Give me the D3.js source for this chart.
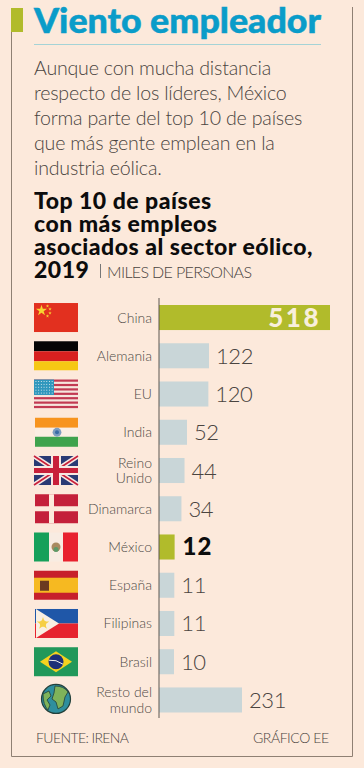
<!DOCTYPE html>
<html><head><meta charset="utf-8">
<script src="https://cdn.jsdelivr.net/npm/d3@7"></script>
<style>html,body{margin:0;padding:0;background:#fce9db}svg{display:block}text{font-family:Lato,sans-serif}</style>
</head><body><svg id="c" width="364" height="768"></svg>
<script>
const categories=["China","Alemania","EU","India","Reino|Unido","Dinamarca","México","España","Filipinas","Brasil","Resto del|mundo"];
const values=[518,122,120,52,44,34,12,11,11,10,231];
const highlighted=["China","México"];
const titleText="Viento empleador";
const introLines=["Aunque con mucha distancia","respecto de los líderes, México","forma parte del top 10 de países","que más gente emplean en la","industria eólica."];
const headingLines=["Top 10 de países","con más empleos","asociados al sector eólico,","2019"];
const unitText="MILES DE PERSONAS";
const sourceText="FUENTE: IRENA";
const creditText="GRÁFICO EE";
// the printed bars are not proportional: breakpoints
const scaleDomain=[0,10,52,122,231,518];
const scaleRange=[159,174,187,209,242,330];

const svg=d3.select("#c");
const bg="#fce9db",green="#b1bb2b",grey="#c9d6d8",ink="#4a4440";
svg.append("rect").attr("width",364).attr("height",768).attr("fill",bg);
// frame
svg.append("path").attr("d","M11.5 32V756.5H352.5V7").attr("fill","none").attr("stroke","#8f8073").attr("stroke-width",1);
svg.append("rect").attr("x",11).attr("y",8).attr("width",12).attr("height",24).attr("fill",green);
// title
svg.append("text").attr("x",34).attr("y",33).text(titleText).attr("font-size",34).attr("font-weight",900).attr("fill","#0a9cc9").attr("stroke","#0a9cc9").attr("stroke-width",.5).attr("textLength",287).attr("lengthAdjust","spacingAndGlyphs");
svg.append("line").attr("x1",34).attr("x2",321).attr("y1",44.5).attr("y2",44.5).attr("stroke","#a5d3d6");
svg.selectAll(".intro").data(introLines).join("text").attr("x",34).attr("y",(d,i)=>75+i*25).text(d=>d).attr("font-size",19.6).attr("font-weight",300).attr("letter-spacing",-.2).attr("fill",ink);
svg.selectAll(".head").data(headingLines).join("text").attr("x",34).attr("y",(d,i)=>209+i*23).text(d=>d).attr("font-size",23).attr("font-weight",900).attr("fill","#0c0c0c").attr("letter-spacing",.5);
svg.append("line").attr("x1",100.5).attr("x2",100.5).attr("y1",264).attr("y2",278).attr("stroke","#777");
svg.append("text").attr("x",107).attr("y",278).text(unitText).attr("font-size",16).attr("font-weight",300).attr("fill",ink).attr("textLength",145);

const x=d3.scaleLinear().domain(scaleDomain).range(scaleRange);
const y=d3.scaleBand().domain(categories).range([298.5,719]).paddingInner(.345).paddingOuter(.17);
const cy=d=>y(d)+y.bandwidth()/2;
const rows=categories.map((c,i)=>({c,v:values[i],i}));
// bars
svg.selectAll(".bar").data(rows).join("rect").attr("x",x(0)).attr("y",d=>y(d.c)).attr("height",y.bandwidth()).attr("width",d=>x(d.v)-x(0)).attr("fill",d=>highlighted.includes(d.c)?green:grey);
svg.append("line").attr("x1",x(0)).attr("x2",x(0)).attr("y1",298).attr("y2",718).attr("stroke","#5d5650");
// labels
rows.forEach(d=>{
 const parts=d.c.split("|");
 const t=svg.append("text").attr("text-anchor","end").attr("font-size",14).attr("font-weight",300).attr("fill","#4f4a46");
 parts.forEach((p,k)=>t.append("tspan").attr("x",152).attr("y",cy(d.c)+5+(k-(parts.length-1)/2)*15.5).text(p));
});
// values
rows.forEach(d=>{
 const t=svg.append("text").attr("y",cy(d.c)+8).text(d.v);
 if(d.c==="China") t.attr("x",x(d.v)-9).attr("y",cy(d.c)+9).attr("text-anchor","end").attr("font-size",26).attr("font-weight",900).attr("fill","#f8efdc").attr("letter-spacing",2.5);
 else if(d.c==="México") t.attr("x",x(d.v)+8).attr("font-size",24).attr("font-weight",900).attr("letter-spacing",1).attr("fill","#0c0c0c");
 else t.attr("x",x(d.v)+7).attr("font-size",22).attr("letter-spacing",-.4).attr("font-weight",300).attr("fill",ink);
});
// flags (drawn in a local 44x29 box)
const W=44,H=29;
const flag=c=>svg.append("g").attr("transform",`translate(34,${cy(c)-H/2})`);
const R=(g,a,b,w,h,f)=>g.append("rect").attr("x",a).attr("y",b).attr("width",w).attr("height",h).attr("fill",f);
const star=(g,cx,cy0,r,f,rot=0)=>g.append("path").attr("transform",`translate(${cx},${cy0}) rotate(${rot})`).attr("d",d3.symbol(d3.symbolStar,r*r*3)()).attr("fill",f);
let g=flag("China");R(g,0,0,W,H,"#e2301f");star(g,7.5,7.5,3.6,"#f7d531");[[13.5,3],[16,6],[16,10],[13.5,13]].forEach(p=>star(g,p[0],p[1],1.1,"#f7d531"));
g=flag("Alemania");R(g,0,0,W,10,"#050505");R(g,0,10,W,10,"#d8201f");R(g,0,20,W,9,"#f6c814");
g=flag("EU");R(g,0,0,W,H,"#f6e6de");for(let i=0;i<7;i++)R(g,0,i*4.4,W,2.2,"#c23a52");R(g,0,0,20,15.5,"#2f97bd");
for(let a=0;a<7;a++)for(let b=0;b<5;b++)R(g,1.5+a*2.7,1.5+b*2.9,.9,.9,"#eef2f2");
g=flag("India");R(g,1,0,43,10,"#f7941e");R(g,1,10,43,9,"#fbeee2");R(g,1,19,43,10,"#3fa34d");g.append("circle").attr("cx",23).attr("cy",14.5).attr("r",4.4).attr("fill","#7e9dc0");g.append("circle").attr("cx",23).attr("cy",14.5).attr("r",2).attr("fill","#3a6ca5");
g=flag("Reino|Unido");R(g,0,0,W,H,"#2a3a74");
g.append("path").attr("d",`M0 0L${W} ${H}M${W} 0L0 ${H}`).attr("stroke","#f8e8e2").attr("stroke-width",5);
g.append("path").attr("d",`M0 0L${W} ${H}M${W} 0L0 ${H}`).attr("stroke","#c8203a").attr("stroke-width",1.6);
R(g,17,0,10,H,"#f8e8e2");R(g,0,10,W,9,"#f8e8e2");R(g,19,0,6,H,"#c8203a");R(g,0,12,W,5,"#c8203a");
g=flag("Dinamarca");R(g,1,0,43,29,"#c4203a");R(g,15,0,5,29,bg);R(g,1,12,43,5,bg);
g=flag("México");R(g,0,0,15,H,"#16a05a");R(g,15,0,14,H,"#f8ece2");R(g,29,0,15,H,"#e8212e");g.append("circle").attr("cx",22).attr("cy",14.5).attr("r",4.5).attr("fill","#a98a60");g.append("circle").attr("cx",22).attr("cy",17).attr("r",2.5).attr("fill","#5c9a68");
g=flag("España");R(g,0,0,W,H,"#c7202b");R(g,0,7,W,15,"#f6b921");R(g,6,10,9,10,"#6b3a20");
g=flag("Filipinas");R(g,1,0,43,14.5,"#1f57a8");R(g,1,14.5,43,14.5,"#e6232e");
g.append("path").attr("d",`M2 0L25 14.5L2 29Z`).attr("fill","#f9efe2");g.append("circle").attr("cx",9).attr("cy",14.5).attr("r",3.2).attr("fill","#f6cf45");star(g,9,14.5,4,"#f6cf45");
g=flag("Brasil");R(g,0,0,W,H,"#21985a");g.append("path").attr("d",`M6 14.5L22 4L38 14.5L22 25Z`).attr("fill","#f5d21f");g.append("circle").attr("cx",22).attr("cy",14.5).attr("r",7.5).attr("fill","#1d2f78");g.append("path").attr("d","M15 13Q22 12 29 17").attr("stroke","#eee").attr("fill","none");
// globe
g=svg.append("g").attr("transform",`translate(56,${cy("Resto del|mundo")-1})`);
g.append("circle").attr("r",14.5).attr("fill","#2f8f9e").attr("stroke","#23403a").attr("stroke-width",1.2);
g.append("path").attr("d","M-1 -13Q8 -13 12 -7L9 -2L7 7L2 10L0 3L-4 0L-2 -6Z").attr("fill","#7fb35a").attr("stroke","#23403a").attr("stroke-width",.8);
g.append("path").attr("d","M-13 -5L-7 -8L-5 -3L-9 1L-6 6L-8 11Q-13 6 -13 -5Z").attr("fill","#7fb35a").attr("stroke","#23403a").attr("stroke-width",.8);
// footer
svg.append("text").attr("x",36).attr("y",743).text(sourceText).attr("font-size",14).attr("font-weight",300).attr("fill",ink).attr("textLength",93);
svg.append("text").attr("x",253).attr("y",743).text(creditText).attr("font-size",14).attr("font-weight",300).attr("fill",ink).attr("textLength",76);
</script></body></html>
